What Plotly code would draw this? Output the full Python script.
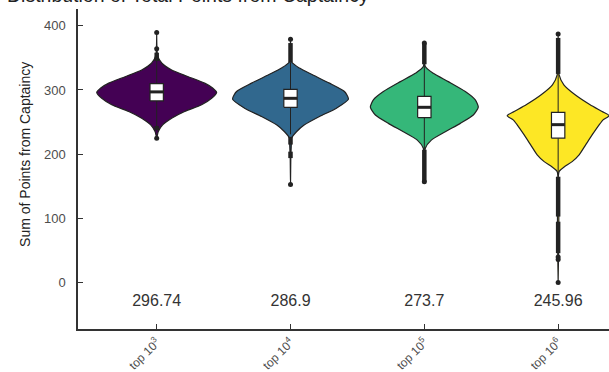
import numpy as np
import plotly.graph_objects as go

# ---- data -------------------------------------------------------------
groups = ["top 10<sup>3</sup>", "top 10<sup>4</sup>", "top 10<sup>5</sup>", "top 10<sup>6</sup>"]
colors = ["#440154", "#31688E", "#35B779", "#FDE725"]
means = [296.74, 286.9, 273.7, 245.96]

# box statistics
q1 = [283, 273, 257, 225]
median = [297, 287, 273, 246]
q3 = [310, 301, 290, 265]
lower_whisker = [243, 231, 207, 165]
upper_whisker = [350, 343, 340, 325]

# kernel density profiles: evaluation points and relative density (1 = widest)
dens_y_1 = [225, 235, 245.7, 256, 266.5, 277, 287, 296, 303, 310.6, 321, 331, 342, 353, 389.5]
dens_w_1 = [0, 1.5, 6, 15, 28, 45, 55, 60, 56, 48, 31, 15, 5, 1, 0]
dens_y_2 = [153, 194, 215, 225, 235, 245.7, 258.6, 271.7, 285.7, 297.6, 310.6, 323.6, 334, 344, 379]
dens_w_2 = [0, 0.3, 0.8, 1, 6, 14, 29, 46, 58, 54, 39, 22, 9, 1, 0]
dens_y_3 = [157, 209.4, 222, 235, 248, 261, 273.3, 284.7, 297.6, 313, 326, 336.5, 373]
dens_w_3 = [0, 1, 7, 21, 36, 49, 54, 51, 41, 24, 9, 1, 0]
dens_y_4 = [0, 173, 180, 188.5, 199, 214.5, 230, 245.7, 253.5, 260, 266.5, 277, 292.5, 308, 323.6, 387]
dens_w_4 = [0, 1, 6, 14, 21, 27.5, 34, 41, 45, 51, 44, 32, 17, 5.7, 1, 0]
dens_y = [dens_y_1, dens_y_2, dens_y_3, dens_y_4]
dens_w = [dens_w_1, dens_w_2, dens_w_3, dens_w_4]
dens_max = 60.0

# outliers: stretches where the points overlap into a solid run, and single points
outlier_runs = [
    [[345, 358], [237, 244]],
    [[343, 373], [215, 227], [194, 204]],
    [[340, 373], [157, 207]],
    [[325, 381], [103, 165], [46, 95]],
]
outlier_points = [
    [389.5, 364, 225],
    [379, 153],
    [373, 157],
    [387, 40, 36, 0.5],
]

# ---- figure -----------------------------------------------------------
HALF = 0.448      # max half width of a violin in category units
BOX_W = 0.1
INK = "#222222"
FONT = "Liberation Sans, Arial, sans-serif"

fig = go.Figure()
pos = np.arange(len(groups))


def add_line(x, y, width, color=INK):
    fig.add_trace(go.Scatter(x=x, y=y, mode="lines", line=dict(color=color, width=width),
                             hoverinfo="skip", showlegend=False))


for i in range(len(groups)):
    # violin body
    y = np.array(dens_y[i], dtype=float)
    w = np.array(dens_w[i], dtype=float) / dens_max * HALF
    xs = np.concatenate([pos[i] + w, (pos[i] - w)[::-1]])
    ys = np.concatenate([y, y[::-1]])
    fig.add_trace(go.Scatter(
        x=xs, y=ys, mode="lines", fill="toself", fillcolor=colors[i],
        line=dict(color=INK, width=1.2, shape="spline", smoothing=0.6),
        hoverinfo="skip", showlegend=False))

    # whiskers
    add_line([pos[i], pos[i]], [lower_whisker[i], q1[i]], 1)
    add_line([pos[i], pos[i]], [q3[i], upper_whisker[i]], 1)

    # box
    xl, xr = pos[i] - BOX_W / 2, pos[i] + BOX_W / 2
    fig.add_trace(go.Scatter(
        x=[xl, xr, xr, xl, xl], y=[q1[i], q1[i], q3[i], q3[i], q1[i]],
        mode="lines", fill="toself", fillcolor="white",
        line=dict(color=INK, width=1.2), hoverinfo="skip", showlegend=False))
    # thick median bar
    add_line([xl, xr], [median[i], median[i]], 3)

    # outliers
    for lo, hi in outlier_runs[i]:
        add_line([pos[i], pos[i]], [lo, hi], 4.5)
    fig.add_trace(go.Scatter(
        x=[pos[i]] * len(outlier_points[i]), y=outlier_points[i], mode="markers",
        marker=dict(color=INK, size=5),
        hoverinfo="skip", showlegend=False, cliponaxis=False))

# mean labels
fig.add_trace(go.Scatter(
    x=pos, y=[-30] * len(means), mode="text",
    text=[f"{m:g}" for m in means],
    textfont=dict(size=16, color="#333333", family=FONT),
    hoverinfo="skip", showlegend=False, cliponaxis=False))

fig.update_layout(
    width=609, height=372,
    margin=dict(l=78, r=0, t=9, b=43),
    paper_bgcolor="white", plot_bgcolor="white",
    font=dict(family=FONT, color="#333333"),
    xaxis=dict(
        range=[-0.588, 3.38], tickvals=pos, ticktext=groups, tickangle=-45,
        automargin=False,
        showgrid=False, zeroline=False, showline=True, linecolor="#333333", linewidth=1.5,
        ticks="inside", ticklen=5, tickcolor="#333333", tickwidth=1.2,
        tickfont=dict(size=12, color="#4d4d4d", family=FONT)),
    yaxis=dict(
        range=[-72, 426], tickvals=[0, 100, 200, 300, 400],
        automargin=False,
        showgrid=False, zeroline=False, showline=True, linecolor="#333333", linewidth=1.5,
        ticks="inside", ticklen=5, tickcolor="#333333", tickwidth=1.2,
        ticklabelstandoff=8,
        tickfont=dict(size=13, color="#4d4d4d", family=FONT)),
    annotations=[
        dict(text="Distribution of Total Points from Captaincy", xref="paper", yref="paper",
             x=-0.138, y=1.004, xanchor="left", yanchor="bottom", showarrow=False,
             font=dict(size=19.5, color="#222222", family=FONT)),
        dict(text="Sum of Points from Captaincy", xref="paper", yref="paper",
             x=-0.0998, y=0.544, xanchor="center", yanchor="middle", textangle=-90,
             showarrow=False, font=dict(size=14, color="#222222", family=FONT)),
    ],
)

fig.write_html("out.html")
